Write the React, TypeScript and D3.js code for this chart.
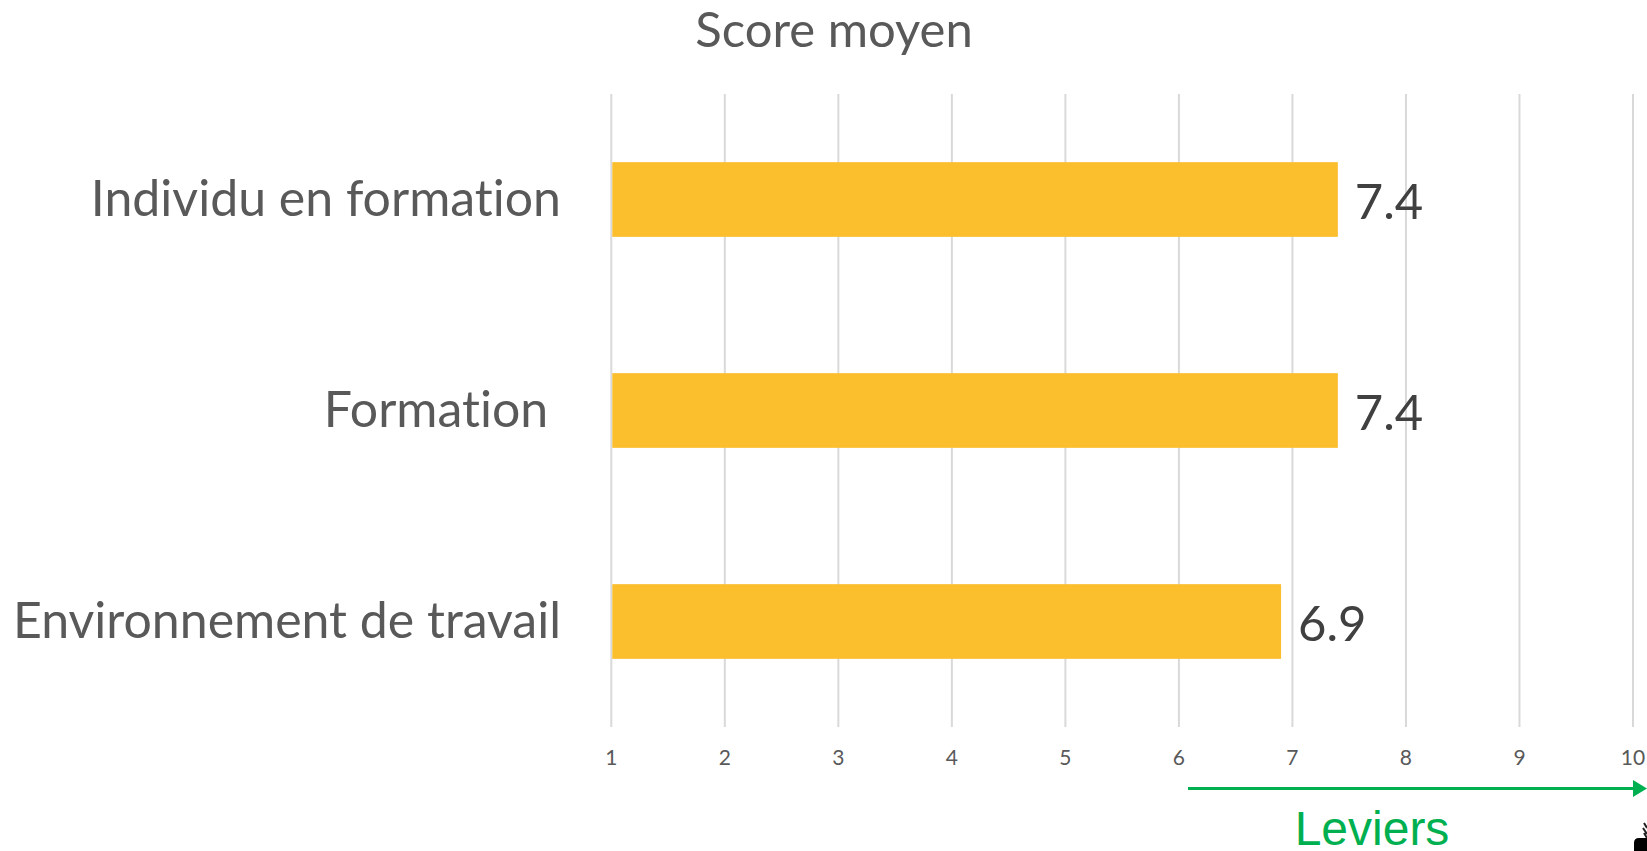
import * as d3 from "d3";

const categories = ["Individu en formation", "Formation ", "Environnement de travail"];
const scores = [7.4, 7.4, 6.9];
const tickValues = [1, 2, 3, 4, 5, 6, 7, 8, 9, 10];

const width = 1647;
const height = 851;
const plot = { left: 611.3, right: 1633, top: 94, bottom: 727 };
const calibriLike = "Lato, 'Open Sans', sans-serif";
const noLigatures = { fontVariantLigatures: "none" as const };

export default function App() {
  const x = d3.scaleLinear().domain([1, 10]).range([plot.left, plot.right]);
  const y = d3
    .scaleBand()
    .domain(categories)
    .range([plot.top, plot.bottom])
    .paddingInner(0.646)
    .paddingOuter(0.323);

  return (
    <svg
      width={width}
      height={height}
      style={{ position: "absolute", left: 0, top: 0, background: "#fff" }}
    >
      <text x={834} y={47} textAnchor="middle" fontFamily={calibriLike} fontSize={49} fill="#595959">
        Score moyen
      </text>

      {tickValues.map((t) => (
        <g key={t}>
          <line x1={x(t)} x2={x(t)} y1={plot.top} y2={plot.bottom} stroke="#d9d9d9" strokeWidth={2} />
          <text
            x={x(t)}
            y={765}
            textAnchor="middle"
            fontFamily={calibriLike}
            fontSize={21}
            fill="#595959"
          >
            {t}
          </text>
        </g>
      ))}

      {categories.map((c, i) => {
        const top = y(c)!;
        const mid = top + y.bandwidth() / 2;
        return (
          <g key={c}>
            <rect
              x={x(1) + 1}
              y={top}
              width={x(scores[i]) - x(1) - 1}
              height={y.bandwidth()}
              fill="#fbbe2d"
            />
            <text
              x={561}
              y={mid + 16}
              textAnchor="end"
              xmlSpace="preserve"
              fontFamily={calibriLike}
              fontSize={50}
              fill="#595959"
              style={noLigatures}
            >
              {c}
            </text>
            <text
              x={x(scores[i]) + 17}
              y={mid + 19}
              fontFamily={calibriLike}
              fontSize={49}
              fill="#404040"
            >
              {scores[i].toFixed(1)}
            </text>
          </g>
        );
      })}

      <line x1={1188} x2={1636} y1={788.5} y2={788.5} stroke="#00b050" strokeWidth={3} />
      <path d={d3.line()([[1633, 780], [1647, 788.5], [1633, 797]]) + "Z"} fill="#00b050" />
      <text
        x={1372}
        y={845}
        textAnchor="middle"
        fontFamily="'Liberation Sans', Arial, sans-serif"
        fontSize={48}
        fill="#00b050"
      >
        Leviers
      </text>

      {/* cropped icon in the corner of the source slide */}
      <path d="M1634 851V843Q1634 838 1639 838H1647V851Z" fill="#000" />
      <path d="M1644 823L1647 828M1643 828L1647 834M1644 833L1647 838" stroke="#222" strokeWidth={2} fill="none" />
    </svg>
  );
}
